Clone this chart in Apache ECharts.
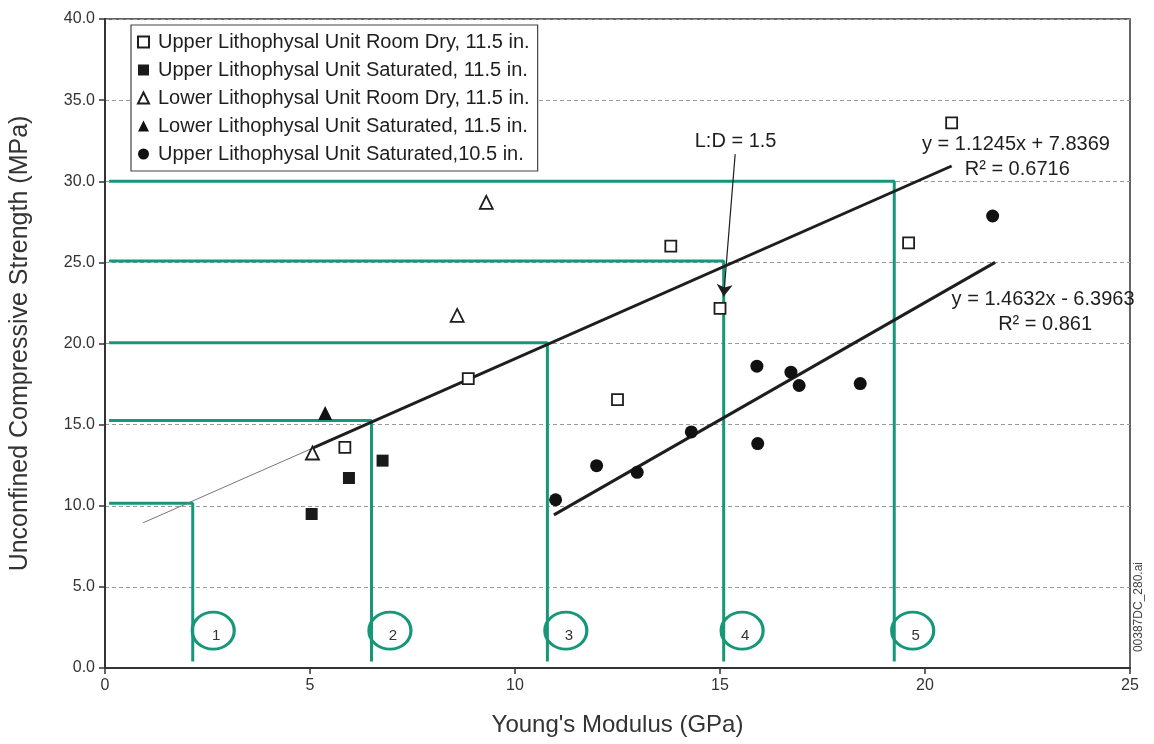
<!DOCTYPE html>
<html>
<head>
<meta charset="utf-8">
<script src="https://cdn.jsdelivr.net/npm/echarts@6/dist/echarts.min.js"></script>
<style>
  html, body { margin: 0; padding: 0; background: #fff; }
  #chart { width: 1154px; height: 744px; }
</style>
</head>
<body>
<div id="chart"></div>
<script>
// values
const upperDryX = [5.85, 8.86, 12.5, 13.8, 15.0, 19.6, 20.65]
const upperDryY = [13.6, 17.84, 16.54, 26.0, 22.16, 26.2, 33.6]
const upperSat115X = [5.04, 5.95, 6.77]
const upperSat115Y = [9.49, 11.71, 12.78]
const lowerDryX = [5.06, 8.59, 9.3]
const lowerDryY = [13.25, 21.73, 28.7]
const lowerSatX = [5.37]
const lowerSatY = [15.72]
const upperSat105X = [10.99, 11.99, 12.98, 14.3, 15.92, 15.9, 16.73, 16.93, 18.42, 21.65]
const upperSat105Y = [10.37, 12.47, 12.06, 14.55, 13.83, 18.6, 18.23, 17.41, 17.53, 27.86]

// trend line end points
const trend1Thin = [[0.93, 8.95], [5.09, 13.58]]
const trend1 = [[5.09, 13.58], [20.65, 30.94]]
const trend2 = [[10.95, 9.44], [21.71, 25.0]]

// green guide lines: strength level and modulus where it meets the trend
const levelY = [10.15, 15.25, 20.04, 25.08, 30.0]
const levelX = [2.14, 6.5, 10.79, 15.09, 19.25]
const guideBottom = 0.4

// numbered ellipses
const zoneLabels = ['1', '2', '3', '4', '5']
const zoneX = [2.64, 6.95, 11.24, 15.54, 19.7]
const zoneY = 2.3

// annotations
const ldText = 'L:D = 1.5'
const ldPos = [15.38, 32.47]
const ldArrow = [[15.37, 31.67], [15.09, 22.9]]
const eqTexts = ['y = 1.1245x + 7.8369', 'R² = 0.6716', 'y = 1.4632x - 6.3963', 'R² = 0.861']
const eqX = [22.22, 22.25, 22.88, 22.93]
const eqY = [32.28, 30.74, 22.72, 21.17]

const seriesNames = [
  'Upper Lithophysal Unit Room Dry, 11.5 in.',
  'Upper Lithophysal Unit Saturated, 11.5 in.',
  'Lower Lithophysal Unit Room Dry, 11.5 in.',
  'Lower Lithophysal Unit Saturated, 11.5 in.',
  'Upper Lithophysal Unit Saturated,10.5 in.',
]

const FONT = '"Liberation Sans", Arial, sans-serif'
const GREEN = '#17977a'
const INK = '#1e1e1e'

function pairs(xs, ys) {
  return xs.map((x, i) => [x, ys[i]])
}

const chart = echarts.init(document.getElementById('chart'), null, { renderer: 'canvas' })

const series = []

// green guides
levelY.forEach((y, i) => {
  series.push({
    type: 'line',
    silent: true,
    symbol: 'none',
    z: 1,
    lineStyle: { color: GREEN, width: 3 },
    data: [[0.1, y], [levelX[i], y], [levelX[i], guideBottom]],
  })
})

// trend lines
series.push({
  type: 'line', silent: true, symbol: 'none', z: 2,
  lineStyle: { color: '#777', width: 1 },
  data: trend1Thin,
})
series.push({
  type: 'line', silent: true, symbol: 'none', z: 2,
  lineStyle: { color: INK, width: 3 },
  data: trend1,
})
series.push({
  type: 'line', silent: true, symbol: 'none', z: 2,
  lineStyle: { color: INK, width: 3 },
  data: trend2,
})

// data points
series.push({
  name: seriesNames[0], type: 'scatter', symbol: 'rect', symbolSize: 11, z: 5,
  itemStyle: { color: '#fff', borderColor: INK, borderWidth: 1.8, opacity: 1 },
  data: pairs(upperDryX, upperDryY),
})
series.push({
  name: seriesNames[1], type: 'scatter', symbol: 'rect', symbolSize: 12, z: 5,
  itemStyle: { color: '#1a1a1a', opacity: 1 },
  data: pairs(upperSat115X, upperSat115Y),
})
series.push({
  name: seriesNames[2], type: 'scatter', symbol: 'triangle', symbolSize: 13, z: 5,
  itemStyle: { color: '#fff', borderColor: INK, borderWidth: 1.8, opacity: 1 },
  data: pairs(lowerDryX, lowerDryY),
})
series.push({
  name: seriesNames[3], type: 'scatter', symbol: 'triangle', symbolSize: 14, z: 5,
  itemStyle: { color: '#111', opacity: 1 },
  data: pairs(lowerSatX, lowerSatY),
})
series.push({
  name: seriesNames[4], type: 'scatter', symbol: 'circle', symbolSize: 13, z: 5,
  itemStyle: { color: '#111', opacity: 1 },
  data: pairs(upperSat105X, upperSat105Y),
})

// numbered ellipses
series.push({
  type: 'scatter', silent: true, symbol: 'circle', symbolSize: [42, 37], z: 4,
  itemStyle: { color: 'rgba(255,255,255,0)', borderColor: GREEN, borderWidth: 3, opacity: 1 },
  label: {
    show: true, position: 'inside', offset: [3, 5],
    color: '#333', fontSize: 15, fontFamily: FONT,
    formatter: (p) => p.name,
  },
  data: zoneLabels.map((t, i) => ({ name: t, value: [zoneX[i], zoneY] })),
})

// L:D arrow
series.push({
  type: 'lines', coordinateSystem: 'cartesian2d', silent: true, z: 6,
  symbol: ['none', 'arrow'], symbolSize: 12,
  lineStyle: { color: INK, width: 1.2, opacity: 1 },
  data: [{ coords: ldArrow }],
})

// text annotations
series.push({
  type: 'scatter', silent: true, symbolSize: 0, z: 7,
  itemStyle: { opacity: 1 },
  label: {
    show: true, position: 'inside', color: INK, fontSize: 20, fontFamily: FONT,
    formatter: (p) => p.name,
  },
  data: [{ name: ldText, value: ldPos }].concat(
    eqTexts.map((t, i) => ({ name: t, value: [eqX[i], eqY[i]] }))
  ),
})

chart.setOption({
  animation: false,
  backgroundColor: '#fff',
  textStyle: { fontFamily: FONT },
  grid: {
    left: 104, right: 24, top: 19, bottom: 76,
    show: true, borderColor: '#333', borderWidth: 1.5, backgroundColor: 'transparent',
  },
  legend: {
    data: seriesNames,
    orient: 'vertical',
    left: 131, top: 25,
    padding: [7, 8, 7, 6],
    itemGap: 8,
    itemWidth: 11, itemHeight: 11,
    backgroundColor: '#fff',
    borderColor: '#444', borderWidth: 1.2,
    borderRadius: 0,
    textStyle: { color: INK, fontSize: 20, fontFamily: FONT, padding: [0, 0, 0, 4] },
  },
  xAxis: {
    type: 'value', min: 0, max: 25, interval: 5,
    name: "Young's Modulus (GPa)", nameLocation: 'middle', nameGap: 45,
    nameTextStyle: { color: '#333', fontSize: 24, fontFamily: FONT },
    axisLine: { lineStyle: { color: '#333', width: 2 } },
    axisTick: { show: true, length: 6, lineStyle: { color: '#333', width: 1.5 } },
    axisLabel: { color: '#333', fontSize: 16, margin: 10, fontFamily: FONT },
    splitLine: { show: false },
  },
  yAxis: {
    type: 'value', min: 0, max: 40, interval: 5,
    name: 'Unconfined Compressive Strength (MPa)', nameLocation: 'middle', nameGap: 72,
    nameTextStyle: { color: '#333', fontSize: 25, fontFamily: FONT },
    axisLine: { show: true, lineStyle: { color: '#333', width: 2 } },
    axisTick: { show: true, length: 6, lineStyle: { color: '#333', width: 1.5 } },
    axisLabel: { color: '#333', fontSize: 16, margin: 10, fontFamily: FONT, formatter: (v) => v.toFixed(1) },
    splitLine: { show: true, lineStyle: { color: '#9a9a9a', width: 1, type: [4, 3] } },
  },
  graphic: [{
    type: 'text',
    left: 1133, top: 562,
    rotation: Math.PI / 2,
    style: { text: '00387DC_280.ai', fill: '#444', font: '12px ' + FONT },
  }],
  series,
})
</script>
</body>
</html>
